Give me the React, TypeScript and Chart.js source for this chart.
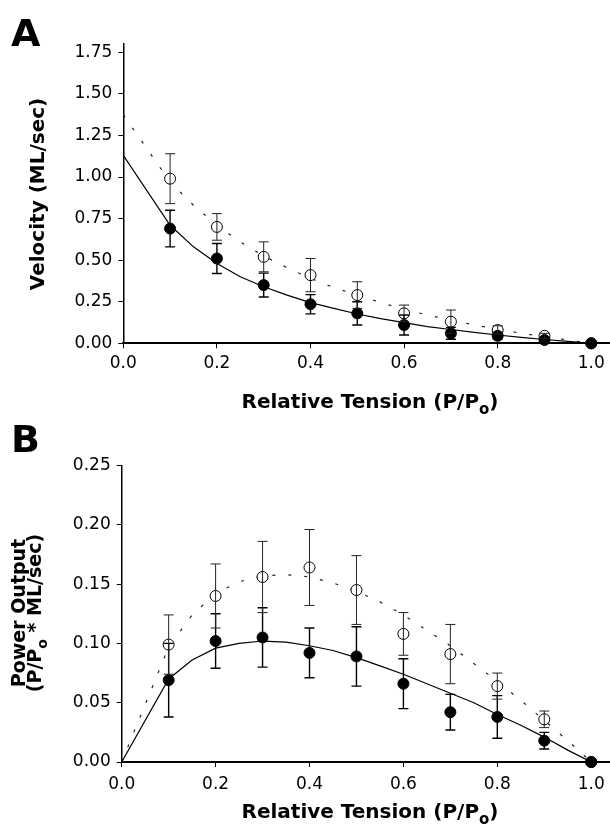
import React, { useEffect, useRef } from 'react';
import { Chart, registerables } from 'chart.js';

Chart.register(...registerables);

// ---------- data ----------
const tension = [0.1, 0.2, 0.3, 0.4, 0.5, 0.6, 0.7, 0.8, 0.9, 1.0];

const velocityFilled = [0.69, 0.51, 0.35, 0.235, 0.18, 0.11, 0.06, 0.045, 0.02, 0];
const velocityFilledSE = [0.11, 0.09, 0.072, 0.058, 0.07, 0.06, 0.036, 0.02, 0.01, 0];
const velocityOpen = [0.99, 0.7, 0.52, 0.41, 0.29, 0.18, 0.13, 0.08, 0.045, 0];
const velocityOpenSE = [0.15, 0.08, 0.09, 0.1, 0.08, 0.05, 0.07, 0.025, 0.015, 0];

const powerFilled = [0.069, 0.102, 0.105, 0.092, 0.089, 0.066, 0.042, 0.038, 0.018, 0];
const powerFilledSE = [0.031, 0.023, 0.025, 0.021, 0.025, 0.021, 0.015, 0.018, 0.007, 0];
const powerOpen = [0.099, 0.14, 0.156, 0.164, 0.145, 0.108, 0.091, 0.064, 0.036, 0];
const powerOpenSE = [0.025, 0.027, 0.03, 0.032, 0.029, 0.018, 0.025, 0.011, 0.007, 0];

const fitTension = [0, 0.1, 0.15, 0.2, 0.25, 0.3, 0.35, 0.4, 0.45, 0.5, 0.55, 0.6, 0.65, 0.7, 0.75, 0.8, 0.85, 0.9, 0.95, 1.0];
const velocityFitSolid = [1.13, 0.71, 0.58, 0.48, 0.4, 0.34, 0.29, 0.245, 0.21, 0.176, 0.148, 0.124, 0.1, 0.083, 0.066, 0.05, 0.036, 0.023, 0.011, 0];
const velocityFitDotted = [1.375, 0.97, 0.83, 0.71, 0.61, 0.525, 0.455, 0.39, 0.335, 0.29, 0.245, 0.205, 0.17, 0.14, 0.11, 0.085, 0.06, 0.04, 0.02, 0];
const powerFitSolid = [0, 0.07, 0.086, 0.096, 0.1, 0.102, 0.101, 0.098, 0.094, 0.088, 0.081, 0.074, 0.066, 0.058, 0.05, 0.04, 0.031, 0.021, 0.01, 0];
const powerFitDotted = [0, 0.097, 0.124, 0.142, 0.152, 0.157, 0.158, 0.156, 0.151, 0.144, 0.135, 0.124, 0.111, 0.098, 0.083, 0.068, 0.052, 0.035, 0.018, 0];

const tensionTicks = [0, 0.2, 0.4, 0.6, 0.8, 1.0];
const velocityTicks = [0, 0.25, 0.5, 0.75, 1.0, 1.25, 1.5, 1.75];
const powerTicks = [0, 0.05, 0.1, 0.15, 0.2, 0.25];

const xTitle = [{ t: 'Relative Tension (P/P' }, { t: 'o', sub: true }, { t: ')' }];
const velocityTitle = [{ t: 'Velocity (ML/sec)' }];
const powerTitle1 = [{ t: 'Power Output' }];
const powerTitle2 = [{ t: '(P/P' }, { t: 'o', sub: true }, { t: ' * ML/sec)' }];

// ---------- helpers ----------
const FAM = '"DejaVu Sans", "Liberation Sans", sans-serif';
type Part = { t: string; sub?: boolean };

function drawParts(ctx: CanvasRenderingContext2D, parts: Part[], cx: number, base: number, size: number) {
  const mainF = `bold ${size}px ${FAM}`;
  const subF = `bold ${Math.round(size * 0.74)}px ${FAM}`;
  let total = 0;
  const widths = parts.map((p) => {
    ctx.font = p.sub ? subF : mainF;
    const w = ctx.measureText(p.t).width;
    total += w;
    return w;
  });
  let x = cx - total / 2;
  ctx.textAlign = 'left';
  ctx.textBaseline = 'alphabetic';
  ctx.fillStyle = '#000';
  parts.forEach((p, i) => {
    ctx.font = p.sub ? subF : mainF;
    ctx.fillText(p.t, x, base + (p.sub ? size * 0.3 : 0));
    x += widths[i];
  });
}

const pts = (xs: number[], ys: number[]) => xs.map((x, i) => ({ x, y: ys[i] }));

const errorBarPlugin = {
  id: 'errorBars',
  afterDatasetsDraw(chart: any) {
    const ctx = chart.ctx as CanvasRenderingContext2D;
    const xs = chart.scales.x;
    const ys = chart.scales.y;
    chart.data.datasets.forEach((ds: any) => {
      if (!ds.errorBars) return;
      ctx.save();
      ctx.strokeStyle = ds.errorColor;
      ctx.lineWidth = ds.errorWidth;
      ds.data.forEach((p: any, j: number) => {
        const e = ds.errorBars[j];
        if (!e) return;
        const px = xs.getPixelForValue(p.x);
        const t = ys.getPixelForValue(p.y + e);
        const b = ys.getPixelForValue(p.y - e);
        ctx.beginPath();
        ctx.moveTo(px, t);
        ctx.lineTo(px, b);
        ctx.moveTo(px - 5, t);
        ctx.lineTo(px + 5, t);
        ctx.moveTo(px - 5, b);
        ctx.lineTo(px + 5, b);
        ctx.stroke();
      });
      ctx.restore();
    });
  },
};

type Spec = {
  letter: string;
  letterX: number;
  letterBase: number;
  yMax: number;
  yTicks: number[];
  left: number;
  top: number;
  bottom: number;
  xPad: number;
  xTitleBase: number;
  yTitles: { parts: Part[]; base: number; size: number }[];
  yTitleCenter: number;
  filled: number[];
  filledSE: number[];
  open: number[];
  openSE: number[];
  fitSolid: number[];
  fitDotted: number[];
};

const H = 420;
const W = 610;

function makeChart(canvas: HTMLCanvasElement, s: Spec) {
  const titlePlugin = {
    id: 'titles' + s.letter,
    afterDraw(chart: any) {
      const ctx = chart.ctx as CanvasRenderingContext2D;
      ctx.save();
      ctx.fillStyle = '#000';
      ctx.font = `bold 38px ${FAM}`;
      ctx.textAlign = 'left';
      ctx.textBaseline = 'alphabetic';
      ctx.fillText(s.letter, s.letterX, s.letterBase);
      drawParts(ctx, xTitle, 370, s.xTitleBase, 20);
      s.yTitles.forEach((yt) => {
        ctx.save();
        ctx.translate(yt.base, s.yTitleCenter);
        ctx.rotate(-Math.PI / 2);
        drawParts(ctx, yt.parts, 0, 0, yt.size);
        ctx.restore();
      });
      ctx.restore();
    },
  };

  return new Chart(canvas, {
    type: 'scatter',
    data: {
      datasets: [
        {
          label: 'filled',
          data: pts(tension, s.filled),
          pointRadius: 5.5,
          pointHoverRadius: 5.5,
          pointBackgroundColor: '#000',
          pointBorderColor: '#000',
          pointBorderWidth: 1,
          showLine: false,
          order: 0,
          clip: false,
          errorBars: s.filledSE,
          errorColor: '#000',
          errorWidth: 1.4,
        } as any,
        {
          label: 'open',
          data: pts(tension, s.open),
          pointRadius: 5.5,
          pointHoverRadius: 5.5,
          pointBackgroundColor: '#fff',
          pointBorderColor: '#000',
          pointBorderWidth: 1,
          showLine: false,
          order: 1,
          clip: false,
          errorBars: s.openSE,
          errorColor: '#222',
          errorWidth: 1,
        } as any,
        {
          label: 'fitSolid',
          data: pts(fitTension, s.fitSolid),
          showLine: true,
          pointRadius: 0,
          borderColor: '#000',
          borderWidth: 1.2,
          tension: 0,
          order: 2,
        },
        {
          label: 'fitDotted',
          data: pts(fitTension, s.fitDotted),
          showLine: true,
          pointRadius: 0,
          borderColor: '#222',
          borderWidth: 1.2,
          borderDash: [3, 13],
          tension: 0,
          order: 3,
        },
      ],
    },
    options: {
      responsive: false,
      animation: false,
      devicePixelRatio: 1,
      events: [],
      layout: { autoPadding: false, padding: { top: s.top, left: 0, right: 0, bottom: 0 } },
      plugins: { legend: { display: false }, tooltip: { enabled: false }, title: { display: false } },
      scales: {
        x: {
          type: 'linear',
          min: 0,
          max: 1.04,
          afterBuildTicks: (axis: any) => {
            axis.ticks = tensionTicks.map((v) => ({ value: v }));
          },
          afterFit: (axis: any) => {
            axis.height = H - s.bottom;
            axis.paddingLeft = 0;
            axis.paddingRight = 0;
          },
          ticks: {
            color: '#000',
            font: { family: FAM, size: 17 },
            padding: s.xPad,
            maxRotation: 0,
            autoSkip: false,
            callback: (v: any) => Number(v).toFixed(1),
          },
          grid: { display: true, drawOnChartArea: false, drawTicks: true, tickLength: 5, color: '#000', lineWidth: 1 },
          border: { display: true, color: '#000', width: 2 },
        },
        y: {
          type: 'linear',
          min: 0,
          max: s.yMax,
          afterBuildTicks: (axis: any) => {
            axis.ticks = s.yTicks.map((v) => ({ value: v }));
          },
          afterFit: (axis: any) => {
            axis.width = s.left;
            axis.paddingTop = 0;
            axis.paddingBottom = 0;
          },
          ticks: {
            color: '#000',
            font: { family: FAM, size: 17 },
            padding: 6,
            autoSkip: false,
            callback: (v: any) => Number(v).toFixed(2),
          },
          grid: { display: true, drawOnChartArea: false, drawTicks: true, tickLength: 5, color: '#000', lineWidth: 1 },
          border: { display: true, color: '#000', width: 1.5 },
        },
      },
    },
    plugins: [errorBarPlugin, titlePlugin],
  } as any);
}

export default function App() {
  const refA = useRef<HTMLCanvasElement>(null);
  const refB = useRef<HTMLCanvasElement>(null);

  useEffect(() => {
    const a = makeChart(refA.current!, {
      letter: 'A',
      letterX: 11,
      letterBase: 46,
      yMax: 1.8,
      yTicks: velocityTicks,
      left: 123.3,
      top: 44,
      bottom: 343.3,
      xPad: 5,
      xTitleBase: 408,
      yTitles: [{ parts: velocityTitle, base: 44, size: 20 }],
      yTitleCenter: 194,
      filled: velocityFilled,
      filledSE: velocityFilledSE,
      open: velocityOpen,
      openSE: velocityOpenSE,
      fitSolid: velocityFitSolid,
      fitDotted: velocityFitDotted,
    });
    const b = makeChart(refB.current!, {
      letter: 'B',
      letterX: 11,
      letterBase: 32,
      yMax: 0.25,
      yTicks: powerTicks,
      left: 121.7,
      top: 45.5,
      bottom: 342,
      xPad: 7,
      xTitleBase: 398,
      yTitles: [
        { parts: powerTitle1, base: 25, size: 19 },
        { parts: powerTitle2, base: 41, size: 19 },
      ],
      yTitleCenter: 193,
      filled: powerFilled,
      filledSE: powerFilledSE,
      open: powerOpen,
      openSE: powerOpenSE,
      fitSolid: powerFitSolid,
      fitDotted: powerFitDotted,
    });
    return () => {
      a.destroy();
      b.destroy();
    };
  }, []);

  return (
    <div style={{ position: 'absolute', left: 0, top: 0, width: W, height: 2 * H, background: '#fff' }}>
      <canvas ref={refA} width={W} height={H} style={{ display: 'block', width: W, height: H }} />
      <canvas ref={refB} width={W} height={H} style={{ display: 'block', width: W, height: H }} />
    </div>
  );
}
